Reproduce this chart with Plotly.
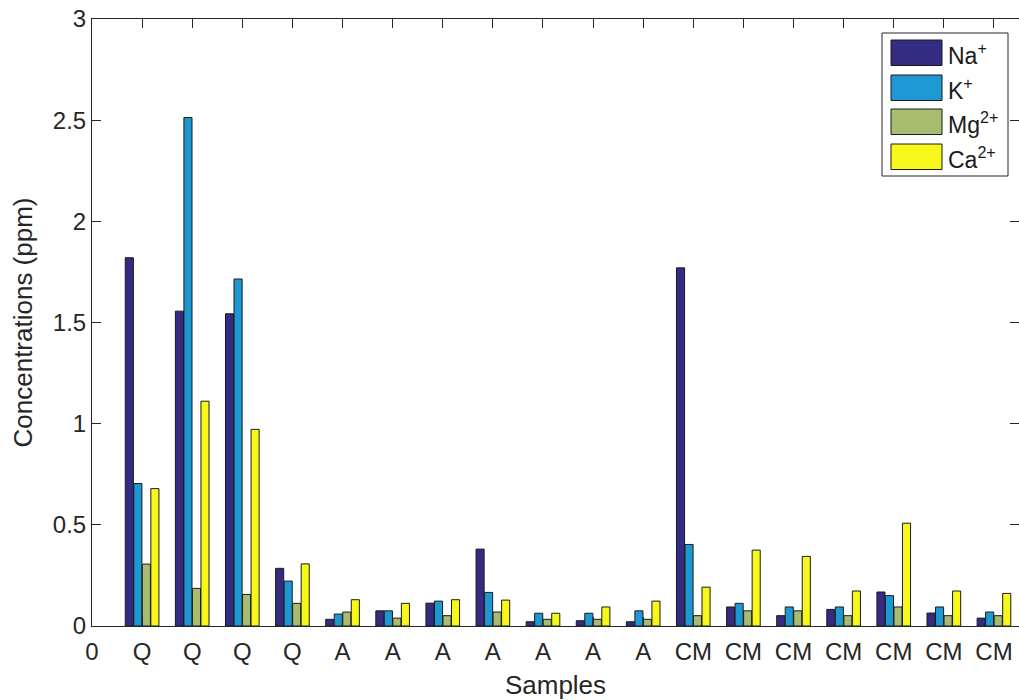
import plotly.graph_objects as go

# ---- data ----
samples = ["Q", "Q", "Q", "Q", "A", "A", "A", "A", "A", "A", "A",
           "CM", "CM", "CM", "CM", "CM", "CM", "CM"]
na = [1.82, 1.556, 1.543, 0.285, 0.033, 0.075, 0.113, 0.38, 0.021, 0.026, 0.021,
      1.77, 0.094, 0.051, 0.082, 0.168, 0.064, 0.039]
k = [0.704, 2.513, 1.715, 0.222, 0.059, 0.075, 0.123, 0.166, 0.063, 0.063, 0.075,
     0.403, 0.112, 0.094, 0.094, 0.150, 0.094, 0.069]
mg = [0.306, 0.186, 0.156, 0.112, 0.069, 0.039, 0.051, 0.069, 0.033, 0.033, 0.033,
      0.051, 0.075, 0.075, 0.051, 0.094, 0.051, 0.051]
ca = [0.679, 1.111, 0.972, 0.307, 0.130, 0.112, 0.130, 0.128, 0.063, 0.094, 0.123,
      0.192, 0.375, 0.344, 0.173, 0.508, 0.173, 0.161]

series_names = ["Na<sup>+</sup>", "K<sup>+</sup>", "Mg<sup>2+</sup>", "Ca<sup>2+</sup>"]
series_values = [na, k, mg, ca]
series_colors = ["#342c82", "#1e98d2", "#a7bc6e", "#f7f719"]

xpos = list(range(1, len(samples) + 1))
tick_vals = [0] + xpos
tick_text = ["0"] + samples
y_ticks = [0, 0.5, 1, 1.5, 2, 2.5, 3]
y_text = ["0", "0.5", "1", "1.5", "2", "2.5", "3"]

W, H = 1019, 700
L, R, T, B = 92, 0, 19, 74
AX = "#262626"
FONT = "Liberation Sans, Arial, sans-serif"

fig = go.Figure()
for name, vals, col in zip(series_names, series_values, series_colors):
    fig.add_trace(go.Bar(x=xpos, y=vals, name=name,
                         marker=dict(color=col, line=dict(color="#1a1a1a", width=1)),
                         showlegend=False))

def px2paper_x(px):
    return (px - L) / (W - L - R)

def px2paper_y(py):
    return (H - B - py) / (H - B - T)

shapes = []
annotations = []
# legend box
shapes.append(dict(type="rect", xref="paper", yref="paper",
                   x0=px2paper_x(882), x1=px2paper_x(1008),
                   y0=px2paper_y(176), y1=px2paper_y(33),
                   line=dict(color=AX, width=1), fillcolor="white", layer="above"))
sw_tops = [40, 75, 109, 144]
for i, (name, col) in enumerate(zip(series_names, series_colors)):
    t0 = sw_tops[i]
    shapes.append(dict(type="rect", xref="paper", yref="paper",
                       x0=px2paper_x(891), x1=px2paper_x(942),
                       y0=px2paper_y(t0 + 25.5), y1=px2paper_y(t0),
                       line=dict(color="#1a1a1a", width=1), fillcolor=col, layer="above"))
    annotations.append(dict(xref="paper", yref="paper", x=px2paper_x(946),
                            y=px2paper_y(t0 + 14), text=name, showarrow=False,
                            xanchor="left", yanchor="middle",
                            font=dict(family=FONT, size=23, color="#1a1a1a")))

fig.update_layout(
    width=W, height=H,
    margin=dict(l=L, r=R, t=T, b=B, pad=0),
    paper_bgcolor="white", plot_bgcolor="white",
    barmode="group", bargap=0.32, bargroupgap=0.05,
    font=dict(family=FONT, size=24, color=AX),
    shapes=shapes, annotations=annotations,
    showlegend=False,
)
fig.update_xaxes(range=[0, 18.5], tickmode="array", tickvals=tick_vals, ticktext=tick_text,
                 ticks="inside", ticklen=9, tickcolor=AX, showline=True, linecolor=AX,
                 linewidth=1, mirror="ticks", showgrid=False, zeroline=False,
                 ticklabelstandoff=4,
                 tickfont=dict(family=FONT, size=24, color=AX),
                 title=dict(text="Samples", font=dict(family=FONT, size=26, color=AX), standoff=12))
fig.update_yaxes(range=[0, 3], tickmode="array", tickvals=y_ticks, ticktext=y_text,
                 ticks="inside", ticklen=9, tickcolor=AX, showline=True, linecolor=AX,
                 linewidth=1, mirror="ticks", showgrid=False, zeroline=False,
                 tickfont=dict(family=FONT, size=24, color=AX),
                 title=dict(text="Concentrations (ppm)", font=dict(family=FONT, size=26, color=AX), standoff=12))

fig.write_html("out.html")
